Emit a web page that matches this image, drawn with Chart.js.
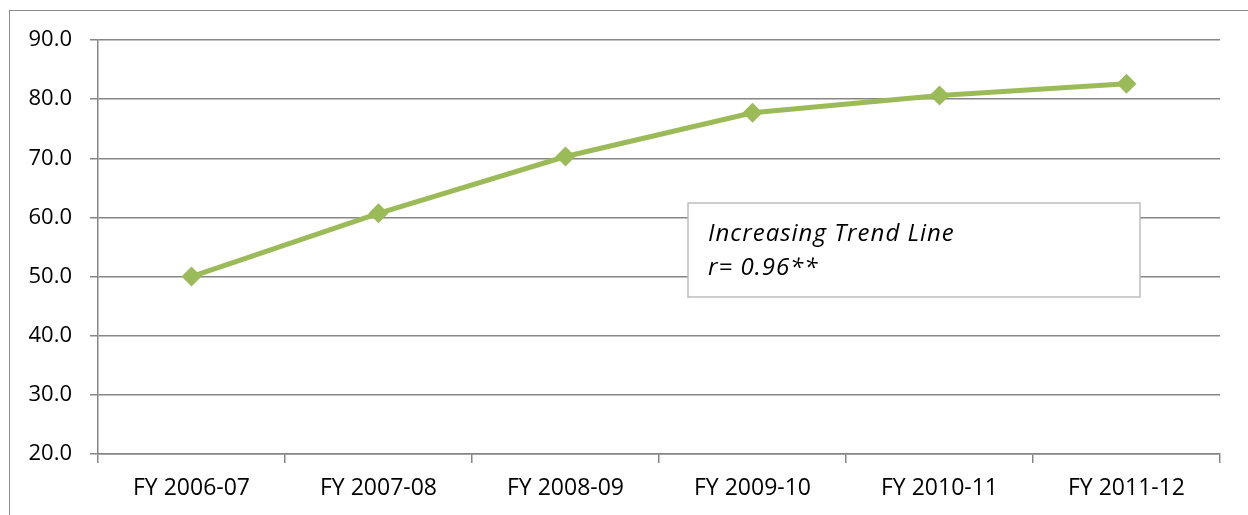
<!DOCTYPE html>
<html>
<head>
<meta charset="utf-8">
<script src="https://cdn.jsdelivr.net/npm/chart.js@4.4.1/dist/chart.umd.min.js"></script>
<style>
  html, body { margin: 0; padding: 0; background: #ffffff; overflow: hidden; }
  #wrap { position: relative; width: 1248px; height: 515px; }
  #frame { position: absolute; left: 9px; top: 10px; width: 1300px; height: 600px;
           border: 1.5px solid #8c8c8c; box-sizing: border-box; pointer-events: none; }
  canvas { position: absolute; left: 0; top: 0; }
</style>
</head>
<body>
<div id="wrap">
  <div id="frame"></div>
  <canvas id="c" width="1248" height="515"></canvas>
</div>
<script>
// Fiscal years on the category axis
const categories = ['FY 2006-07', 'FY 2007-08', 'FY 2008-09', 'FY 2009-10', 'FY 2010-11', 'FY 2011-12'];
// Yearly values
const values = [50.0, 60.7, 70.3, 77.7, 80.6, 82.6];
// Value axis range and ticks
const yTicks = [20, 30, 40, 50, 60, 70, 80, 90];
// Note box text
const noteLines = ['Increasing Trend Line', 'r= 0.96**'];

const FONT = '"Open Sans", "Liberation Sans", sans-serif';
const GRID = '#868686';
const GREEN = '#9bbb59';

// Draws the italic note box inside the plot area
const notePlugin = {
  id: 'noteBox',
  afterDatasetsDraw(chart) {
    const { ctx, chartArea } = chart;
    const x = chartArea.left + 590, y = chartArea.top + 163;
    const w = 452, h = 94;
    ctx.save();
    ctx.fillStyle = '#ffffff';
    ctx.fillRect(x, y, w, h);
    ctx.strokeStyle = '#bdbdbd';
    ctx.lineWidth = 1.5;
    ctx.strokeRect(x, y, w, h);
    ctx.fillStyle = '#000000';
    ctx.font = 'italic 24px ' + FONT;
    if ('letterSpacing' in ctx) ctx.letterSpacing = '1px';
    ctx.textBaseline = 'alphabetic';
    ctx.fillText(noteLines[0], x + 20, y + 38);
    ctx.fillText(noteLines[1], x + 20, y + 72);
    ctx.restore();
  }
};

new Chart(document.getElementById('c'), {
  type: 'line',
  data: {
    labels: categories,
    datasets: [{
      data: values,
      borderColor: GREEN,
      backgroundColor: GREEN,
      borderWidth: 5,
      tension: 0,
      pointStyle: 'rectRot',
      pointRadius: 10,
      pointHoverRadius: 10,
      pointBorderWidth: 0,
      pointBackgroundColor: GREEN,
      fill: false
    }]
  },
  options: {
    responsive: false,
    animation: false,
    events: [],
    layout: { padding: { left: 0, right: 28, top: 40, bottom: 0 } },
    plugins: { legend: { display: false }, tooltip: { enabled: false } },
    scales: {
      x: {
        offset: true,
        grid: { offset: true, drawOnChartArea: false, color: GRID, lineWidth: 1.5, tickLength: 9 },
        border: { color: GRID, width: 1.5 },
        ticks: { color: '#000000', font: { family: FONT, size: 23 }, padding: 12, maxRotation: 0 },
        afterFit(scale) { scale.height = 61; }
      },
      y: {
        min: yTicks[0],
        max: yTicks[yTicks.length - 1],
        afterBuildTicks(scale) { scale.ticks = yTicks.map(v => ({ value: v })); },
        grid: { color: GRID, lineWidth: 1.5, tickLength: 8 },
        border: { color: GRID, width: 1.5 },
        ticks: {
          color: '#000000',
          font: { family: FONT, size: 22 },
          padding: 18,
          callback: v => Number(v).toFixed(1)
        },
        afterFit(scale) { scale.width = 98; }
      }
    }
  },
  plugins: [notePlugin]
});
</script>
</body>
</html>
